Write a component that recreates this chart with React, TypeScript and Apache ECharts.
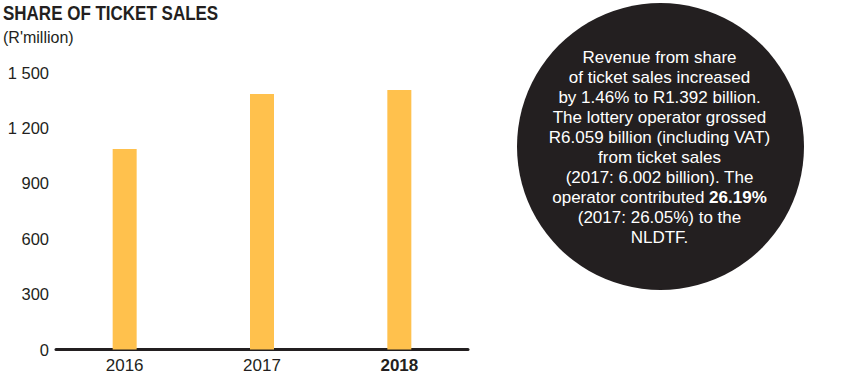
import React, { useEffect, useRef } from "react";
import * as echarts from "echarts";

const categories = ["2016", "2017", "2018"];
const shareOfTicketSales = [1087, 1385, 1406];
const yTicks = [0, 300, 600, 900, 1200, 1500];
const titleText = "SHARE OF TICKET SALES";
const subtitleText = "(R'million)";
const noteLines = [
  "Revenue from share",
  "of ticket sales increased",
  "by 1.46% to R1.392 billion.",
  "The lottery operator grossed",
  "R6.059 billion (including VAT)",
  "from ticket sales",
  "(2017: 6.002 billion). The",
  "operator contributed {b|26.19%}",
  "(2017: 26.05%) to the",
  "NLDTF.",
];

const DARK = "#231f20";
const BAR = "#ffc14d";
const FONT = "'Liberation Sans', Helvetica, Arial, sans-serif";

export default function App() {
  const ref = useRef<HTMLDivElement>(null);
  useEffect(() => {
    if (!ref.current) return;
    const chart = echarts.init(ref.current, null, { renderer: "svg" });
    chart.setOption({
      animation: false,
      backgroundColor: "#ffffff",
      grid: { left: 56, right: 398, top: 72.7, bottom: 29.5, containLabel: false },
      xAxis: {
        type: "category",
        data: categories,
        axisLine: { show: true, lineStyle: { color: DARK, width: 3 } },
        axisTick: { show: false },
        axisLabel: {
          margin: 7,
          fontFamily: FONT,
          fontSize: 17,
          color: DARK,
          formatter: (v: string) => (v === categories[categories.length - 1] ? `{b|${v}}` : v),
          rich: { b: { fontWeight: "bold", fontSize: 17, fontFamily: FONT, color: DARK } },
        },
      },
      yAxis: {
        type: "value",
        min: yTicks[0],
        max: yTicks[yTicks.length - 1],
        interval: yTicks[1] - yTicks[0],
        axisLine: { show: false },
        axisTick: { show: false },
        splitLine: { show: false },
        axisLabel: {
          margin: 7,
          fontFamily: FONT,
          fontSize: 16.5,
          color: DARK,
          formatter: (v: number) => String(v).replace(/\B(?=(\d{3})+(?!\d))/g, " "),
        },
      },
      series: [
        {
          type: "bar",
          data: shareOfTicketSales,
          barWidth: 24,
          itemStyle: { color: BAR },
          z: 1,
        },
      ],
      graphic: [
        {
          type: "text",
          x: 3,
          y: 3,
          scaleX: 0.85,
          style: {
            text: titleText,
            font: `bold 20px ${FONT}`,
            fill: DARK,
          },
        },
        {
          type: "text",
          left: 3,
          top: 29,
          style: {
            text: subtitleText,
            font: `16px ${FONT}`,
            fill: DARK,
          },
        },
        {
          type: "circle",
          shape: { cx: 660.5, cy: 146.5, r: 143.5 },
          style: { fill: DARK },
        },
        {
          type: "text",
          x: 659.5,
          y: 147.5,
          style: {
            text: noteLines.join("\n"),
            fill: "#ffffff",
            fontFamily: FONT,
            fontSize: 17,
            lineHeight: 20.1,
            align: "center",
            verticalAlign: "middle",
            rich: {
              b: { fontWeight: "bold", fill: "#ffffff", fontSize: 17, fontFamily: FONT, lineHeight: 20.1 },
            },
          },
        },
      ],
    });
    return () => chart.dispose();
  }, []);
  return (
    <div
      ref={ref}
      style={{ position: "fixed", left: 0, top: 0, width: 866, height: 379 }}
    />
  );
}
